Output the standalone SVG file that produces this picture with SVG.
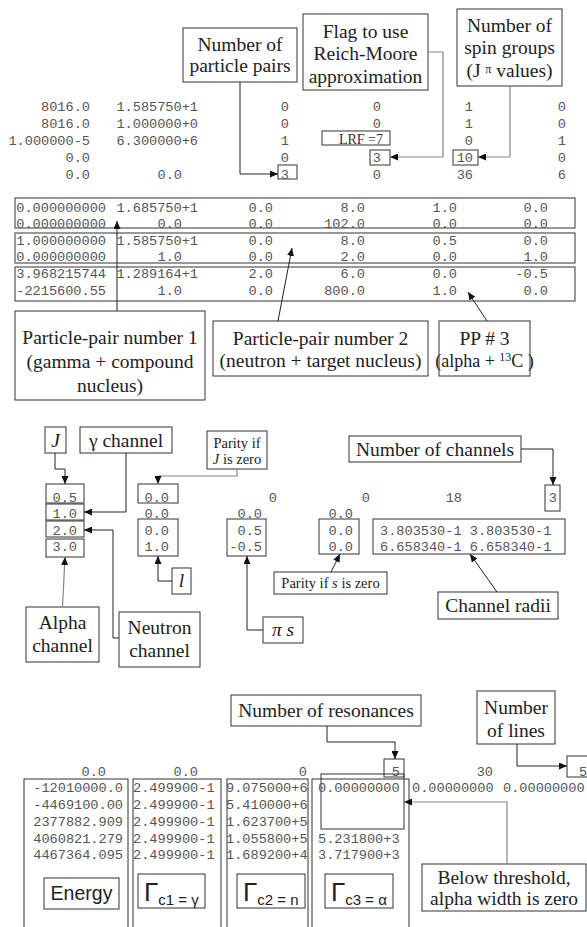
<svg xmlns="http://www.w3.org/2000/svg" width="587" height="927" viewBox="0 0 587 927">
<defs>
<marker id="ah" markerWidth="8" markerHeight="7" refX="8" refY="3.5" orient="auto" markerUnits="userSpaceOnUse"><path d="M0,0 L8,3.5 L0,7 z" fill="#111"/></marker>
<marker id="ahg" markerWidth="8" markerHeight="7" refX="8" refY="3.5" orient="auto" markerUnits="userSpaceOnUse"><path d="M0,0 L8,3.5 L0,7 z" fill="#111"/></marker>
<style>
.m{font-family:"Liberation Mono",monospace;font-size:13.6px;fill:#555}
.e{text-anchor:end}
.l{font-family:"Liberation Serif",serif;font-size:19.5px;fill:#222;text-anchor:middle}
.s{font-family:"Liberation Serif",serif;font-size:14.5px;fill:#222;text-anchor:middle}
.g{font-family:"Liberation Sans",sans-serif;fill:#222}
.b{fill:none;stroke:#333;stroke-width:1}
.bw{fill:#fff;stroke:#333;stroke-width:1}
.c{fill:none;stroke:#222;stroke-width:1}
.cg{fill:none;stroke:#888;stroke-width:1.2}
</style>
</defs>
<rect width="587" height="927" fill="#fff"/>

<!-- Section 1 data -->
<g id="sec1-data">
<rect class="b" x="322" y="131" width="68" height="14"/>
<rect class="b" x="370" y="150" width="20" height="15"/>
<rect class="b" x="453" y="150" width="25" height="15"/>
<rect class="b" x="278" y="165" width="19" height="14"/>
<g class="m e">
<text x="90" y="111">8016.0</text><text x="198" y="111">1.585750+1</text><text x="289" y="111">0</text><text x="381" y="111">0</text><text x="473" y="111">1</text><text x="566" y="111">0</text>
<text x="90" y="128">8016.0</text><text x="198" y="128">1.000000+0</text><text x="289" y="128">0</text><text x="381" y="128">0</text><text x="473" y="128">1</text><text x="566" y="128">0</text>
<text x="90" y="145">1.000000-5</text><text x="198" y="145">6.300000+6</text><text x="289" y="145">1</text><text x="473" y="145">0</text><text x="566" y="145">1</text>
<text x="90" y="162">0.0</text><text x="289" y="162">0</text><text x="381" y="162">3</text><text x="473" y="162">10</text><text x="566" y="162">0</text>
<text x="90" y="179">0.0</text><text x="182" y="179">0.0</text><text x="289" y="179">3</text><text x="381" y="179">0</text><text x="473" y="179">36</text><text x="566" y="179">6</text>
</g>
<text x="383" y="144" style="font-family:'Liberation Serif',serif;font-size:14px;fill:#333;text-anchor:end">LRF =7</text>
</g>

<g id="n-particle-pairs"><rect class="bw" x="183" y="28" width="114" height="54"/><text class="l" x="240" y="50.5">Number of</text><text class="l" x="240" y="72">particle pairs</text></g>
<g id="n-reich-moore"><rect class="bw" x="303" y="14" width="125" height="76"/><text class="l" x="365.5" y="37.5">Flag to use</text><text class="l" x="365.5" y="60">Reich-Moore</text><text class="l" x="365.5" y="82.5">approximation</text></g>
<g id="n-spin-groups"><rect class="bw" x="457" y="9" width="105" height="77"/><text class="l" x="509.5" y="31.5">Number of</text><text class="l" x="509.5" y="54">spin groups</text><text class="l" x="509.5" y="77">(J <tspan font-size="12" dy="-4">π</tspan><tspan dy="4"> values)</tspan></text></g>

<!-- Section 2 data -->
<g id="sec2-data">
<rect class="b" x="15" y="198" width="560" height="30"/>
<rect class="b" x="15" y="233" width="560" height="30"/>
<rect class="b" x="15" y="267" width="560" height="34"/>
<g class="m e">
<text x="106" y="211.5">0.000000000</text><text x="198" y="211.5">1.685750+1</text><text x="273" y="211.5">0.0</text><text x="365" y="211.5">8.0</text><text x="457" y="211.5">1.0</text><text x="548" y="211.5">0.0</text>
<text x="106" y="227.5">0.000000000</text><text x="182" y="227.5">0.0</text><text x="273" y="227.5">0.0</text><text x="365" y="227.5">102.0</text><text x="457" y="227.5">0.0</text><text x="548" y="227.5">0.0</text>
<text x="106" y="244.5">1.000000000</text><text x="198" y="244.5">1.585750+1</text><text x="273" y="244.5">0.0</text><text x="365" y="244.5">8.0</text><text x="457" y="244.5">0.5</text><text x="548" y="244.5">0.0</text>
<text x="106" y="260.5">0.000000000</text><text x="182" y="260.5">1.0</text><text x="273" y="260.5">0.0</text><text x="365" y="260.5">2.0</text><text x="457" y="260.5">0.0</text><text x="548" y="260.5">1.0</text>
<text x="106" y="278">3.968215744</text><text x="198" y="278">1.289164+1</text><text x="273" y="278">2.0</text><text x="365" y="278">6.0</text><text x="457" y="278">0.0</text><text x="548" y="278">-0.5</text>
<text x="106" y="295">-2215600.55</text><text x="182" y="295">1.0</text><text x="273" y="295">0.0</text><text x="365" y="295">800.0</text><text x="457" y="295">1.0</text><text x="548" y="295">0.0</text>
</g>
</g>

<g id="n-pp1"><rect class="bw" x="15" y="311" width="190" height="89"/><text class="l" x="110" y="344">Particle-pair number 1</text><text class="l" x="110" y="368">(gamma + compound</text><text class="l" x="110" y="392">nucleus)</text></g>
<g id="n-pp2"><rect class="bw" x="213" y="321" width="215" height="55"/><text class="l" x="320.5" y="344.5">Particle-pair number 2</text><text class="l" x="320.5" y="367">(neutron + target nucleus)</text></g>
<g id="n-pp3"><rect class="bw" x="439" y="321" width="91" height="55"/><text class="l" x="484.5" y="344.5">PP # 3</text><text class="l" x="484.5" y="367" style="font-size:18px">(alpha + <tspan font-size="12" dy="-6">13</tspan><tspan dy="6">C )</tspan></text></g>

<!-- Section 3 data -->
<g id="sec3-data">
<rect class="b" x="46" y="484" width="38" height="19"/>
<rect class="b" x="46" y="504" width="38" height="16"/>
<rect class="b" x="46" y="521" width="38" height="16"/>
<rect class="b" x="46" y="539" width="38" height="18"/>
<rect class="b" x="138" y="484" width="40" height="19"/>
<rect class="b" x="138" y="519" width="40" height="37"/>
<rect class="b" x="227" y="519" width="39" height="37"/>
<rect class="b" x="319" y="519" width="40" height="35"/>
<rect class="b" x="373" y="519" width="192" height="35"/>
<rect class="b" x="545" y="485" width="15" height="26"/>
<g class="m e">
<text x="77" y="501.5">0.5</text><text x="169" y="501.5">0.0</text><text x="277" y="501.5">0</text><text x="370" y="501.5">0</text><text x="462" y="501.5">18</text><text x="557" y="501.5">3</text>
<text x="77" y="517.5">1.0</text><text x="169" y="517.5">0.0</text><text x="262" y="517.5">0.0</text><text x="353" y="517.5">0.0</text>
<text x="77" y="534.5">2.0</text><text x="169" y="534.5">0.0</text><text x="262" y="534.5">0.5</text><text x="353" y="534.5">0.0</text>
<text x="77" y="550.5">3.0</text><text x="169" y="550.5">1.0</text><text x="262" y="550.5">-0.5</text><text x="353" y="550.5">0.0</text>
</g>
<text class="m" x="380" y="534.5">3.803530-1 3.803530-1</text>
<text class="m" x="380" y="550.5">6.658340-1 6.658340-1</text>
</g>

<g id="n-J"><rect class="bw" x="45" y="427" width="21" height="26"/><text class="l" x="55.5" y="447" font-style="italic">J</text></g>
<g id="n-gamma-channel"><rect class="bw" x="80" y="427" width="92" height="26"/><text class="l" x="126" y="447">γ channel</text></g>
<g id="n-parity-J"><rect class="bw" x="207" y="431" width="60" height="38"/><text class="s" x="237" y="447.5">Parity if</text><text class="s" x="237" y="463.5"><tspan font-style="italic">J</tspan> is zero</text></g>
<g id="n-num-channels"><rect class="bw" x="349" y="436" width="172" height="26"/><text class="l" x="435" y="455.5">Number of channels</text></g>
<g id="n-alpha-channel"><rect class="bw" x="26" y="607" width="73" height="55"/><text class="l" x="62.5" y="629">Alpha</text><text class="l" x="62.5" y="652">channel</text></g>
<g id="n-neutron-channel"><rect class="bw" x="119" y="612" width="81" height="55"/><text class="l" x="159.5" y="634">Neutron</text><text class="l" x="159.5" y="657">channel</text></g>
<g id="n-l"><rect class="bw" x="172" y="568" width="19" height="26"/><text class="l" x="181.5" y="587" font-style="italic">l</text></g>
<g id="n-pi-s"><rect class="bw" x="263" y="617" width="40" height="26"/><text class="l" x="283" y="636" font-style="italic">π s</text></g>
<g id="n-parity-s"><rect class="bw" x="274" y="572" width="113" height="22"/><text class="s" x="330.5" y="588">Parity if <tspan font-style="italic">s</tspan> is zero</text></g>
<g id="n-channel-radii"><rect class="bw" x="438" y="592" width="120" height="27"/><text class="l" x="498" y="612">Channel radii</text></g>

<!-- Section 4 data -->
<g id="sec4-data">
<rect class="b" x="24" y="779" width="104" height="200"/>
<rect class="b" x="133" y="779" width="88" height="200"/>
<rect class="b" x="227" y="779" width="81" height="200"/>
<rect class="b" x="312" y="779" width="97" height="200"/>
<rect class="b" x="321" y="774" width="83" height="55"/>
<rect class="b" x="384" y="759" width="20" height="18"/>
<rect class="b" x="567" y="756" width="30" height="21"/>
<g class="m e">
<text x="106" y="775.5">0.0</text><text x="198" y="775.5">0.0</text><text x="307" y="775.5">0</text><text x="400" y="775.5">5</text><text x="493" y="775.5">30</text>
<text x="123" y="791.5">-12010000.0</text>
<text x="123" y="808.5">-4469100.00</text>
<text x="123" y="825.5">2377882.909</text>
<text x="123" y="842.5">4060821.279</text>
<text x="123" y="858.5">4467364.095</text>
</g>
<g class="m">
<text x="579" y="775.5">5</text>
<text x="133" y="791.5">2.499900-1</text><text x="226" y="791.5">9.075000+6</text><text x="318" y="791.5">0.00000000</text><text x="412" y="791.5">0.00000000</text><text x="503" y="791.5">0.00000000</text>
<text x="133" y="808.5">2.499900-1</text><text x="226" y="808.5">5.410000+6</text>
<text x="133" y="825.5">2.499900-1</text><text x="226" y="825.5">1.623700+5</text>
<text x="133" y="842.5">2.499900-1</text><text x="226" y="842.5">1.055800+5</text><text x="318" y="842.5">5.231800+3</text>
<text x="133" y="858.5">2.499900-1</text><text x="226" y="858.5">1.689200+4</text><text x="318" y="858.5">3.717900+3</text>
</g>
</g>

<g id="n-energy"><rect class="bw" x="44" y="878" width="75" height="31"/><text class="g" x="81.5" y="900" font-size="19.5" text-anchor="middle">Energy</text></g>
<g id="n-gc1"><rect class="bw" x="138" y="874" width="67" height="34"/><text class="g" x="144" y="901" font-size="26">Γ<tspan font-size="15" dy="4">c1 = γ</tspan></text></g>
<g id="n-gc2"><rect class="bw" x="237" y="874" width="68" height="34"/><text class="g" x="243" y="901" font-size="26">Γ<tspan font-size="15" dy="4">c2 = n</tspan></text></g>
<g id="n-gc3"><rect class="bw" x="325" y="874" width="68" height="34"/><text class="g" x="331" y="901" font-size="26">Γ<tspan font-size="15" dy="4">c3 = α</tspan></text></g>
<g id="n-num-resonances"><rect class="bw" x="231" y="695" width="190" height="31"/><text class="l" x="326" y="717">Number of resonances</text></g>
<g id="n-num-lines"><rect class="bw" x="477" y="691" width="78" height="53"/><text class="l" x="516" y="713.5">Number</text><text class="l" x="516" y="737">of lines</text></g>
<g id="n-below-threshold"><rect class="bw" x="422" y="864" width="164" height="47"/><text class="l" x="504" y="884">Below threshold,</text><text class="l" x="504" y="905">alpha width is zero</text></g>

<!-- Connectors -->
<g id="connectors">
<path class="c" d="M240,82 V174 H278" marker-end="url(#ah)"/>
<path class="cg" d="M428,52 H443 V157 H390" marker-end="url(#ahg)"/>
<path class="cg" d="M510,86 V157 H478" marker-end="url(#ahg)"/>
<path class="c" d="M117,311 V221" marker-end="url(#ah)"/>
<path class="c" d="M278,321 L292,248" marker-end="url(#ah)"/>
<path class="c" d="M487,321 L468,292" marker-end="url(#ah)"/>
<path class="c" d="M55,453 V469 H65 V484" marker-end="url(#ah)"/>
<path class="c" d="M126,453 V512 H84" marker-end="url(#ah)"/>
<path class="cg" d="M237,469 V476 H158 V484" marker-end="url(#ahg)"/>
<path class="c" d="M521,449 H553 V485" marker-end="url(#ah)"/>
<path class="cg" d="M62.5,607 L65,557" marker-end="url(#ahg)"/>
<path class="c" d="M119,638 H113 V530 H84" marker-end="url(#ah)"/>
<path class="c" d="M172,581 H158 V556" marker-end="url(#ah)"/>
<path class="c" d="M263,630 H247 V556" marker-end="url(#ah)"/>
<path class="c" d="M331,572 L340,554" marker-end="url(#ah)"/>
<path class="c" d="M497,592 L470,554" marker-end="url(#ah)"/>
<path class="c" d="M327,726 V742 H395 V759" marker-end="url(#ah)"/>
<path class="c" d="M517,744 V766 H567" marker-end="url(#ah)"/>
<path class="cg" d="M507,864 V802 H404" marker-end="url(#ahg)"/>
</g>
</svg>
